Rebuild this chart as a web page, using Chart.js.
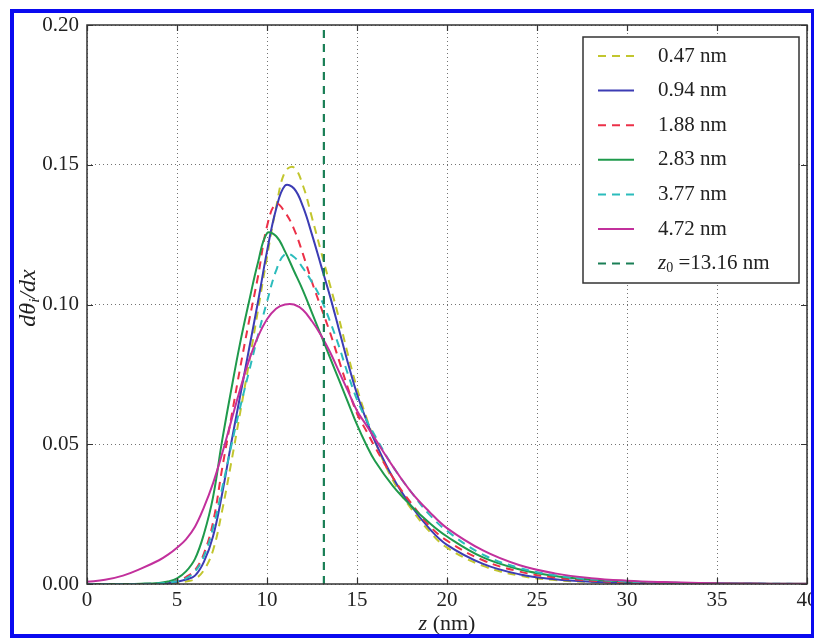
<!DOCTYPE html>
<html><head><meta charset="utf-8">
<script src="https://cdn.jsdelivr.net/npm/chart.js@4.4.1/dist/chart.umd.min.js"></script>
<style>html,body{margin:0;padding:0;background:#fff;overflow:hidden}canvas{display:block}</style>
</head><body>
<canvas id="c" width="814" height="640"></canvas>
<script>
// ---- data ----
const zValues = [0,1,2,3,4,4.5,5,5.5,6,6.5,7,7.5,8,8.5,9,9.5,10,10.5,11,11.5,12,12.5,13,13.5,14,14.5,15,15.5,16,17,18,19,20,22,24,26,28,30,32,34,36,38,40];
const series047 = [0,0,0,0,0.0001,0.0002,0.0004,0.0009,0.0018,0.005,0.012,0.026,0.043,0.061,0.079,0.098,0.117,0.1345,0.1475,0.149,0.1425,0.131,0.119,0.107,0.095,0.082,0.070,0.060,0.051,0.037,0.027,0.019,0.013,0.0065,0.003,0.0014,0.0007,0.0003,0.0002,0.0001,0,0,0];
const series094 = [0,0,0,0,0.0001,0.0003,0.0008,0.0016,0.003,0.008,0.017,0.032,0.050,0.067,0.084,0.101,0.119,0.134,0.1425,0.1415,0.135,0.125,0.114,0.103,0.091,0.079,0.068,0.059,0.051,0.038,0.028,0.020,0.014,0.0072,0.0035,0.0017,0.0008,0.0004,0.0002,0.0001,0.0001,0,0];
const series188 = [0,0,0,0,0.0002,0.0005,0.0012,0.0025,0.005,0.011,0.022,0.041,0.059,0.077,0.094,0.110,0.128,0.136,0.133,0.127,0.118,0.108,0.099,0.090,0.080,0.070,0.061,0.055,0.049,0.038,0.029,0.021,0.0155,0.0085,0.0045,0.0023,0.0012,0.0006,0.0003,0.0002,0.0001,0,0];
const series283 = [0,0,0,0.0001,0.0004,0.0009,0.002,0.0045,0.009,0.018,0.031,0.051,0.069,0.086,0.101,0.115,0.1255,0.1245,0.119,0.112,0.105,0.097,0.089,0.081,0.073,0.065,0.057,0.050,0.044,0.035,0.028,0.022,0.017,0.0095,0.0053,0.0029,0.0016,0.0009,0.0005,0.0003,0.0002,0.0001,0.0001];
const series377 = [0,0,0,0,0.0002,0.0005,0.001,0.002,0.0045,0.010,0.020,0.034,0.049,0.063,0.076,0.089,0.101,0.112,0.118,0.117,0.113,0.108,0.102,0.094,0.085,0.075,0.066,0.059,0.053,0.042,0.033,0.025,0.019,0.0105,0.0058,0.0031,0.0017,0.0009,0.0005,0.0003,0.0002,0.0001,0];
const series472 = [0.0008,0.0015,0.003,0.0055,0.0085,0.0105,0.013,0.016,0.0205,0.0275,0.036,0.0465,0.058,0.0695,0.080,0.0885,0.0947,0.0985,0.1,0.1,0.098,0.094,0.089,0.083,0.076,0.069,0.062,0.057,0.052,0.042,0.033,0.026,0.020,0.012,0.0068,0.0038,0.0021,0.0012,0.0007,0.0004,0.0002,0.0001,0.0001];
const seriesLabels = ['0.47 nm','0.94 nm','1.88 nm','2.83 nm','3.77 nm','4.72 nm'];
const z0Value = 13.16;
const z0Range = [0, 0.2];
const z0Label = 'z0 =13.16 nm';
const xTicks = [0,5,10,15,20,25,30,35,40];
const yTicks = [0,0.05,0.10,0.15,0.20];
const xAxisLabel = ['z', ' (nm)'];
const yAxisLabel = ['dθ', 'i', '/dx'];

// ---- styles ----
const SERIF = "'Liberation Serif','DejaVu Serif',serif";
const styleList = [
  {color:'#c2c62e', dash:[8,6]},
  {color:'#3c3cb4', dash:[]},
  {color:'#ec3048', dash:[8,6]},
  {color:'#1f9a4c', dash:[]},
  {color:'#2bbcbc', dash:[8,6]},
  {color:'#c2309c', dash:[]}
];
const z0Style = {color:'#1a7f56', dash:[8,6]};

const allSeries = [series047, series094, series188, series283, series377, series472];
const datasets = allSeries.map((vals, i) => ({
  label: seriesLabels[i],
  data: zValues.map((z, k) => ({x: z, y: vals[k]})),
  borderColor: styleList[i].color,
  borderDash: styleList[i].dash,
  borderWidth: 2,
  pointRadius: 0,
  fill: false,
  tension: 0.4,
  order: 10 - i
}));
datasets.push({
  label: z0Label,
  data: z0Range.map(v => ({x: z0Value, y: v})),
  borderColor: z0Style.color,
  borderDash: z0Style.dash,
  borderWidth: 2.2,
  pointRadius: 0,
  fill: false,
  tension: 0,
  order: 1
});

const frameAndTicks = {
  id: 'frameAndTicks',
  afterDatasetsDraw(chart) {
    const {ctx, chartArea: a, scales: {x, y}} = chart;
    ctx.save();
    ctx.setLineDash([]);
    ctx.strokeStyle = '#333';
    ctx.lineWidth = 1.5;
    ctx.strokeRect(a.left, a.top, a.right - a.left, a.bottom - a.top);
    ctx.lineWidth = 1.2;
    const L = 6;
    ctx.beginPath();
    x.ticks.forEach(t => {
      const px = Math.round(x.getPixelForValue(t.value)) + 0.5;
      ctx.moveTo(px, a.bottom); ctx.lineTo(px, a.bottom - L);
      ctx.moveTo(px, a.top); ctx.lineTo(px, a.top + L);
    });
    y.ticks.forEach(t => {
      const py = Math.round(y.getPixelForValue(t.value)) + 0.5;
      ctx.moveTo(a.left, py); ctx.lineTo(a.left + L, py);
      ctx.moveTo(a.right, py); ctx.lineTo(a.right - L, py);
    });
    ctx.stroke();
    ctx.restore();
  }
};

const legendBox = {
  id: 'legendBox',
  afterDraw(chart) {
    const {ctx, chartArea: a} = chart;
    const w = 216, h = 246;
    const right = a.right - 8, top = a.top + 12, left = right - w;
    ctx.save();
    ctx.fillStyle = '#fff';
    ctx.fillRect(left, top, w, h);
    ctx.strokeStyle = '#333';
    ctx.lineWidth = 1.5;
    ctx.setLineDash([]);
    ctx.strokeRect(left, top, w, h);
    const rowH = 34.6, first = top + 19;
    chart.data.datasets.forEach((ds, i) => {
      const yy = first + i * rowH;
      ctx.strokeStyle = ds.borderColor;
      ctx.lineWidth = 2;
      ctx.setLineDash(ds.borderDash || []);
      ctx.beginPath();
      ctx.moveTo(left + 15, yy); ctx.lineTo(left + 51, yy);
      ctx.stroke();
      ctx.setLineDash([]);
      ctx.fillStyle = '#222';
      ctx.textBaseline = 'middle';
      ctx.textAlign = 'left';
      let tx = left + 75;
      if (ds.label === z0Label) {
        ctx.font = 'italic 21px ' + SERIF;
        ctx.fillText('z', tx, yy);
        tx += ctx.measureText('z').width;
        ctx.font = '14px ' + SERIF;
        ctx.fillText('0', tx, yy + 5);
        tx += ctx.measureText('0').width;
        ctx.font = '21px ' + SERIF;
        ctx.fillText(' =13.16 nm', tx, yy);
      } else {
        ctx.font = '21px ' + SERIF;
        ctx.fillText(ds.label, tx, yy);
      }
    });
    ctx.restore();
  }
};

const axisTitles = {
  id: 'axisTitles',
  afterDraw(chart) {
    const {ctx, chartArea: a} = chart;
    ctx.save();
    ctx.fillStyle = '#222';
    ctx.textBaseline = 'alphabetic';
    ctx.textAlign = 'left';
    // x title
    ctx.font = 'italic 22px ' + SERIF;
    const w1 = ctx.measureText(xAxisLabel[0]).width;
    ctx.font = '22px ' + SERIF;
    const w2 = ctx.measureText(xAxisLabel[1]).width;
    let sx = (a.left + a.right) / 2 - (w1 + w2) / 2;
    const by = 630;
    ctx.font = 'italic 22px ' + SERIF;
    ctx.fillText(xAxisLabel[0], sx, by);
    ctx.font = '22px ' + SERIF;
    ctx.fillText(xAxisLabel[1], sx + w1, by);
    // y title
    ctx.translate(35, 298);
    ctx.rotate(-Math.PI / 2);
    ctx.font = 'italic 24px ' + SERIF;
    const a1 = ctx.measureText(yAxisLabel[0]).width;
    ctx.font = 'italic 15px ' + SERIF;
    const a2 = ctx.measureText(yAxisLabel[1]).width;
    ctx.font = 'italic 24px ' + SERIF;
    const a3 = ctx.measureText(yAxisLabel[2]).width;
    let s = -(a1 + a2 + a3) / 2;
    ctx.font = 'italic 24px ' + SERIF;
    ctx.fillText(yAxisLabel[0], s, 0);
    ctx.font = 'italic 15px ' + SERIF;
    ctx.fillText(yAxisLabel[1], s + a1, 4);
    ctx.font = 'italic 24px ' + SERIF;
    ctx.fillText(yAxisLabel[2], s + a1 + a2, 0);
    ctx.restore();
  }
};

const blueFrame = {
  id: 'blueFrame',
  afterDraw(chart) {
    const ctx = chart.ctx;
    ctx.save();
    ctx.setLineDash([]);
    ctx.strokeStyle = '#0a0af0';
    ctx.lineWidth = 4;
    ctx.strokeRect(12, 11, 801, 625);
    ctx.restore();
  }
};

new Chart(document.getElementById('c'), {
  type: 'line',
  data: {datasets},
  options: {
    responsive: false,
    animation: false,
    devicePixelRatio: 1,
    layout: {padding: {top: 25, right: 7, left: 0, bottom: 0}},
    plugins: {legend: {display: false}, tooltip: {enabled: false}},
    scales: {
      x: {
        type: 'linear', min: 0, max: 40,
        afterBuildTicks: s => { s.ticks = xTicks.map(v => ({value: v})); },
        afterFit: s => { s.height = 56; s.paddingLeft = 0; s.paddingRight = 0; },
        ticks: {font: {family: SERIF, size: 21}, color: '#222', padding: 4, maxRotation: 0, autoSkip: false, callback: v => String(v)},
        grid: {color: 'rgba(0,0,0,0.55)', lineWidth: 1, drawTicks: false},
        border: {display: false, dash: [1, 3]}
      },
      y: {
        type: 'linear', min: 0, max: 0.2,
        afterBuildTicks: s => { s.ticks = yTicks.map(v => ({value: v})); },
        afterFit: s => { s.width = 87; s.paddingTop = 0; s.paddingBottom = 0; },
        ticks: {font: {family: SERIF, size: 21}, color: '#222', padding: 8, autoSkip: false, callback: v => Number(v).toFixed(2)},
        grid: {color: 'rgba(0,0,0,0.55)', lineWidth: 1, drawTicks: false},
        border: {display: false, dash: [1, 3]}
      }
    }
  },
  plugins: [frameAndTicks, legendBox, axisTitles, blueFrame]
});
</script>
</body></html>
